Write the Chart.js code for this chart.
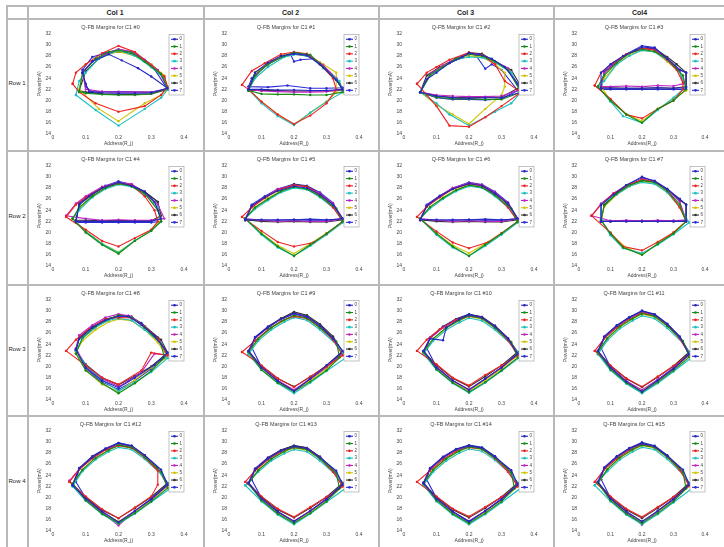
<!DOCTYPE html>
<html>
<head>
<meta charset="utf-8">
<script src="https://cdn.jsdelivr.net/npm/chart.js@4.4.1/dist/chart.umd.min.js"></script>
<style>
  body { margin:0; background:#fff; font-family:"Liberation Sans", Arial, sans-serif; }
  #page { position:relative; width:724px; height:547px; overflow:hidden; background:#fff; }
  .ln { position:absolute; background:#b8b8b8; }
  .hdr { position:absolute; font-size:7px; font-weight:bold; color:#222; text-align:center; line-height:13px; }
  .rlab { position:absolute; font-size:6px; color:#222; text-align:center; width:20px; }
  canvas { position:absolute; }
</style>
</head>
<body>
<div id="page"></div>
<script>
// Q-FB margin sweeps, one chart per table cell (C1 #0 .. #15), 8 series each
const colLabels = ['Col 1', 'Col 2', 'Col 3', 'Col4'];
const rowLabels = ['Row 1', 'Row 2', 'Row 3', 'Row 4'];
const seriesLabels = ['0', '1', '2', '3', '4', '5', '6', '7'];
const seriesColors = ['#2626c0', '#148a14', '#ee2222', '#1cc0c0', '#c024c0', '#d2c200', '#333333', '#2c2cd4'];
const yTicks = [14, 16, 18, 20, 22, 24, 26, 28, 30, 32];
const xTicks = [0, 0.1, 0.2, 0.3, 0.4];

// each chart: 8 series of [address, power] points, closed loops
const c0 = [
  [[.09,25],[.12,27],[.17,28.3],[.21,27.2],[.26,25.8],[.3,24.3],[.35,22.2],[.3,21.4],[.25,21.3],[.2,21.3],[.15,21.4],[.11,21.6],[.1,23],[.09,25]],
  [[.08,21.6],[.09,25],[.13,27.5],[.17,28.7],[.2,29],[.24,28.6],[.28,27],[.33,24.8],[.35,22.2],[.3,21.2],[.25,21],[.2,21],[.15,21.1],[.1,21.3],[.08,21.6]],
  [[.06,23],[.07,25],[.1,26.5],[.15,28.5],[.2,29.8],[.25,28.7],[.3,26.3],[.34,24.3],[.35,22.5],[.33,21],[.28,19],[.2,18],[.13,19.5],[.08,21.5],[.06,23]],
  [[.07,21],[.08,23.5],[.1,25],[.14,27.5],[.2,29],[.25,28],[.3,26],[.34,24],[.35,22],[.33,20.5],[.28,18.5],[.2,15.5],[.13,18.3],[.07,21]],
  [[.09,25],[.12,27],[.16,28.3],[.2,29.2],[.24,28.8],[.28,27.3],[.32,25.5],[.35,22.2],[.3,21.5],[.25,21.5],[.2,21.5],[.15,21.6],[.1,22],[.09,25]],
  [[.08,22],[.09,25],[.13,27.5],[.2,28.8],[.25,28],[.3,26.5],[.34,24.5],[.35,22],[.33,21],[.28,19.5],[.2,16.3],[.14,18.5],[.08,22]],
  [[.08,21.8],[.1,25.3],[.14,27.5],[.18,28.6],[.22,28.7],[.26,28],[.3,26],[.34,24],[.35,22],[.3,21.2],[.25,21.1],[.2,21.1],[.15,21.2],[.1,21.5],[.08,21.8]],
  [[.09,25.5],[.12,27.8],[.16,28.5],[.2,29.2],[.25,28.6],[.3,26.5],[.35,22],[.3,21.5],[.2,21.6],[.15,21.6],[.12,21.5],[.1,22.5],[.09,25.5]]
];
const c1 = [
  [[.06,22],[.08,25],[.12,26.8],[.16,28],[.2,28.4],[.24,28.1],[.28,26.5],[.33,23.7],[.35,22],[.3,21.8],[.25,21.8],[.2,21.9],[.15,21.9],[.1,22],[.06,22]],
  [[.06,21.8],[.08,24.5],[.12,26.5],[.17,28],[.2,28.6],[.25,28.2],[.29,26],[.34,23],[.35,21.5],[.3,21],[.25,21],[.2,21.1],[.15,21.1],[.1,21.2],[.06,21.8]],
  [[.04,22.8],[.07,25.3],[.11,26.7],[.16,28.3],[.2,28.7],[.24,28.4],[.28,26.5],[.32,24],[.33,22],[.3,19.5],[.25,17.3],[.2,15.8],[.15,17.5],[.1,19.8],[.06,22],[.04,22.8]],
  [[.06,22],[.08,24],[.12,26],[.17,27.8],[.21,28.3],[.25,27.8],[.29,25.8],[.34,23.5],[.35,21.5],[.3,19.8],[.25,17.8],[.2,15.6],[.15,17.2],[.1,19.5],[.06,22]],
  [[.06,22],[.09,25],[.13,27],[.17,28],[.21,28.5],[.25,28],[.29,26.3],[.33,24],[.35,22],[.3,21.6],[.25,21.5],[.2,21.5],[.15,21.6],[.1,21.7],[.06,22]],
  [[.06,22],[.09,25.2],[.13,27],[.17,28.2],[.2,28.5],[.25,28],[.29,26.5],[.33,25],[.33,21.5],[.3,19.8],[.25,17.8],[.2,15.7],[.15,17.5],[.1,19.8],[.06,22]],
  [[.06,21.8],[.08,25],[.12,26.5],[.16,27.8],[.2,28.3],[.24,28],[.28,26.8],[.33,24],[.35,21.8],[.3,21.7],[.25,21.7],[.2,21.7],[.15,21.8],[.1,21.8],[.06,21.8]],
  [[.06,22.5],[.07,24],[.12,26.6],[.16,27.8],[.19,28.2],[.2,27],[.22,27.3],[.26,27.5],[.3,25.5],[.35,22.3],[.3,22.2],[.25,22.2],[.18,22.7],[.12,22.4],[.06,22.5]]
];
const c2 = [
  [[.05,21.5],[.07,23.8],[.1,25],[.14,26.7],[.18,27.8],[.2,28.5],[.23,28.3],[.27,27.5],[.31,26],[.35,23],[.36,21.5],[.3,20.5],[.25,20.5],[.2,20.4],[.15,20.5],[.1,20.8],[.05,21.5]],
  [[.05,21.5],[.08,24.6],[.12,26],[.16,27.5],[.2,28.3],[.24,28],[.28,27],[.32,25.5],[.36,21.5],[.3,20.2],[.25,20.2],[.2,20.3],[.15,20.3],[.1,20.6],[.05,21.5]],
  [[.04,23],[.07,25],[.1,26],[.14,27.3],[.2,28.6],[.24,28.2],[.28,26.5],[.31,23.5],[.36,21.5],[.3,19],[.25,17],[.2,15.3],[.14,15.5],[.1,19],[.07,21],[.04,23]],
  [[.05,21.5],[.08,24.5],[.12,26],[.16,27.3],[.2,27.8],[.24,27.7],[.28,26.8],[.33,25],[.36,21.5],[.33,19.5],[.28,18],[.2,15.5],[.14,17.5],[.1,19.5],[.05,21.5]],
  [[.05,21.5],[.08,24.8],[.12,26.3],[.16,27.6],[.2,28.4],[.24,28.1],[.28,27],[.32,25.8],[.36,22],[.3,20.8],[.25,20.7],[.2,20.7],[.15,20.8],[.1,21],[.05,21.5]],
  [[.05,21.5],[.08,24.5],[.12,26.2],[.17,27.5],[.2,28],[.24,27.8],[.28,26.5],[.31,25],[.31,22.5],[.3,21],[.25,18.5],[.2,15.8],[.15,17.5],[.1,19.2],[.05,21.5]],
  [[.05,21.5],[.07,24.5],[.11,26],[.16,27.5],[.2,28.6],[.24,28.4],[.28,27],[.33,25.5],[.36,22.5],[.3,20.6],[.25,20.6],[.2,20.5],[.15,20.6],[.1,20.8],[.05,21.5]],
  [[.05,21.5],[.08,24.5],[.12,26.2],[.16,27.5],[.2,28.3],[.22,28.2],[.25,25.7],[.27,26.5],[.3,25.5],[.35,21.8],[.3,20.3],[.25,20.1],[.2,20.2],[.15,20.2],[.1,20.5],[.05,21.5]]
];
const c3 = [
  [[.07,22.2],[.07,25],[.1,26.5],[.14,28],[.18,29],[.2,29.6],[.24,29.4],[.28,27.5],[.32,25.5],[.34,25],[.34,22.3],[.3,22.2],[.25,22.3],[.2,22.2],[.15,22.2],[.1,22.2],[.07,22.2]],
  [[.06,22.5],[.08,24.5],[.12,26.8],[.16,28.5],[.2,29.2],[.24,28.8],[.28,27.5],[.33,24.5],[.34,22],[.3,20],[.25,18.5],[.2,16],[.15,17.5],[.1,20],[.06,22.5]],
  [[.05,22.7],[.07,25],[.11,26.8],[.15,28.3],[.2,29.4],[.24,29],[.28,27.3],[.31,25.5],[.33,23.2],[.33,22],[.3,20],[.25,18.5],[.2,16.8],[.15,17.5],[.1,20.3],[.05,22.7]],
  [[.06,22.5],[.08,23.5],[.12,26.5],[.16,28],[.2,29],[.24,28.7],[.28,27.2],[.32,25],[.34,22.5],[.3,20.5],[.25,18.3],[.2,16],[.14,17.2],[.1,19.8],[.06,22.5]],
  [[.07,22.5],[.08,25],[.12,27],[.16,28.5],[.2,29.3],[.24,29.2],[.28,27.6],[.32,25.3],[.33,23],[.3,22.6],[.25,22.7],[.2,22.5],[.15,22.6],[.1,22.5],[.07,22.5]],
  [[.07,22.5],[.08,24],[.12,26.5],[.16,28.2],[.2,29],[.24,28.8],[.28,27],[.33,24.5],[.34,21.8],[.3,20.3],[.25,18.5],[.2,16.3],[.15,17.6],[.1,20],[.07,22.5]],
  [[.07,22.3],[.08,25],[.12,26.8],[.16,28.5],[.2,29.3],[.24,29.3],[.28,27.8],[.31,26.5],[.34,25],[.34,22.5],[.3,22.2],[.25,22.3],[.2,22.2],[.15,22.2],[.1,22.3],[.07,22.3]],
  [[.07,22],[.08,25.2],[.11,26.5],[.15,28.3],[.2,29.8],[.24,29.5],[.28,27.5],[.32,25.5],[.34,25],[.34,22],[.3,22],[.25,22],[.2,22],[.15,22],[.1,22],[.07,22]]
];
const c4 = [
  [[.07,22],[.08,25],[.11,26.5],[.15,28],[.2,29],[.24,28.4],[.28,27.3],[.31,25.5],[.33,22.5],[.3,22],[.25,22],[.2,22],[.15,22],[.1,22],[.07,22]],
  [[.06,22.5],[.08,24.5],[.12,26.5],[.16,28],[.2,28.8],[.24,28.3],[.28,27],[.32,24],[.33,22],[.3,20.3],[.25,18.5],[.2,16.2],[.15,17.8],[.1,20],[.06,22.5]],
  [[.04,22.8],[.07,25],[.1,26.3],[.15,28],[.2,28.8],[.24,28.5],[.28,26.5],[.31,24],[.32,22],[.3,20.5],[.25,19],[.2,17.5],[.15,18.5],[.1,20.5],[.04,22.8]],
  [[.06,22.5],[.08,24],[.12,26.3],[.16,27.8],[.2,28.6],[.24,28.2],[.28,26.8],[.32,24.5],[.33,22],[.3,20.3],[.25,18.6],[.2,16.4],[.15,18],[.1,20.2],[.06,22.5]],
  [[.04,23],[.07,25.2],[.1,26.5],[.15,28.2],[.2,29],[.24,28.7],[.28,27],[.32,25],[.34,22.5],[.3,22.2],[.25,22.2],[.2,22.3],[.15,22.2],[.1,22.5],[.04,23]],
  [[.06,22.5],[.08,24.3],[.12,26.5],[.16,28],[.2,28.7],[.24,28.4],[.28,27],[.32,24.5],[.33,22.3],[.3,20.5],[.25,18.5],[.2,16.5],[.15,18],[.1,20.2],[.06,22.5]],
  [[.07,22.2],[.08,25],[.12,26.8],[.16,28.2],[.2,28.9],[.24,28.5],[.28,27.3],[.32,25.5],[.33,23],[.3,22.1],[.25,22.1],[.2,22.2],[.15,22.1],[.1,22.2],[.07,22.2]],
  [[.07,21.8],[.08,25.3],[.12,27],[.16,28.4],[.2,29.2],[.24,28.6],[.28,27.3],[.32,25.5],[.33,22],[.3,21.8],[.25,21.8],[.2,21.8],[.15,21.8],[.1,21.8],[.07,21.8]]
];
const c5 = [
  [[.05,22.3],[.07,24.8],[.11,26.3],[.15,27.5],[.2,28.3],[.24,28],[.28,26.8],[.32,25],[.35,22.5],[.3,22.2],[.25,22.2],[.2,22.3],[.15,22.2],[.1,22.3],[.05,22.3]],
  [[.05,22.5],[.08,24.5],[.12,26],[.16,27.4],[.2,28.2],[.24,27.8],[.28,26.5],[.33,24.3],[.35,22],[.3,19.8],[.25,17.8],[.2,15.8],[.15,17.5],[.1,19.8],[.05,22.5]],
  [[.04,22.8],[.07,24.5],[.11,26.2],[.15,27.6],[.2,28.5],[.24,28.2],[.28,26.7],[.32,24.5],[.35,22],[.3,19.8],[.26,18.2],[.2,17.5],[.15,18.3],[.1,20.3],[.04,22.8]],
  [[.05,22.5],[.08,24.2],[.12,25.8],[.16,27.2],[.2,28],[.24,27.7],[.28,26.3],[.33,24],[.35,21.8],[.3,19.6],[.25,17.6],[.2,15.8],[.15,17.3],[.1,19.6],[.05,22.5]],
  [[.05,22.5],[.07,24.8],[.11,26.3],[.15,27.8],[.2,28.5],[.24,28.2],[.28,27],[.32,25.2],[.35,22.5],[.3,22],[.25,22],[.2,22.1],[.15,22],[.1,22.2],[.05,22.5]],
  [[.05,22.5],[.08,24.5],[.12,26.2],[.16,27.5],[.2,28.2],[.24,27.9],[.28,26.5],[.33,24.2],[.35,22],[.3,19.9],[.25,18],[.2,16.2],[.15,17.7],[.1,19.9],[.05,22.5]],
  [[.05,22.3],[.07,24.7],[.11,26.3],[.15,27.7],[.2,28.6],[.24,28.3],[.28,27],[.32,25],[.35,22.3],[.3,21.9],[.25,21.9],[.2,22],[.15,21.9],[.1,22],[.05,22.3]],
  [[.05,22.2],[.07,25],[.11,26.5],[.15,27.8],[.2,28.7],[.24,28.4],[.28,27.2],[.32,25.3],[.35,22.4],[.3,22.3],[.25,22.4],[.2,22.3],[.15,22.3],[.1,22.2],[.05,22.2]]
];
const c6 = [
  [[.05,22.3],[.07,24.8],[.11,26.5],[.15,27.8],[.2,28.8],[.24,28.4],[.28,27],[.32,25.2],[.35,22.5],[.3,22.2],[.25,22.2],[.2,22.3],[.15,22.2],[.1,22.3],[.05,22.3]],
  [[.05,22.5],[.08,24.6],[.12,26.2],[.16,27.6],[.2,28.5],[.24,28.1],[.28,26.7],[.33,24.3],[.35,22],[.3,19.8],[.25,17.8],[.2,15.8],[.15,17.5],[.1,19.8],[.05,22.5]],
  [[.04,22.8],[.07,24.6],[.11,26.3],[.15,27.8],[.2,28.7],[.24,28.4],[.28,26.8],[.32,24.5],[.35,22],[.3,19.9],[.26,18.3],[.2,17.2],[.15,18.2],[.1,20.2],[.04,22.8]],
  [[.05,22.5],[.08,24.3],[.12,26],[.16,27.4],[.2,28.3],[.24,28],[.28,26.5],[.33,24],[.35,21.8],[.3,19.6],[.25,17.6],[.2,15.8],[.15,17.3],[.1,19.6],[.05,22.5]],
  [[.05,22.5],[.07,24.8],[.11,26.5],[.15,28],[.2,28.9],[.24,28.5],[.28,27.2],[.32,25.3],[.35,22.5],[.3,22],[.25,22],[.2,22.1],[.15,22],[.1,22.2],[.05,22.5]],
  [[.05,22.5],[.08,24.5],[.12,26.3],[.16,27.7],[.2,28.5],[.24,28.2],[.28,26.7],[.33,24.2],[.35,22],[.3,19.9],[.25,18],[.2,16.3],[.15,17.7],[.1,19.9],[.05,22.5]],
  [[.05,22.3],[.07,24.7],[.11,26.4],[.15,27.9],[.2,28.8],[.24,28.5],[.28,27.1],[.32,25],[.35,22.3],[.3,21.9],[.25,21.9],[.2,22],[.15,21.9],[.1,22],[.05,22.3]],
  [[.05,22.2],[.07,25],[.11,26.6],[.15,28],[.2,29],[.24,28.6],[.28,27.3],[.32,25.4],[.35,22.4],[.3,22.3],[.25,22.4],[.2,22.3],[.15,22.3],[.1,22.2],[.05,22.2]]
];
const c7 = [
  [[.07,22],[.07,25],[.11,26.8],[.15,28.5],[.2,30],[.24,29.2],[.28,27.8],[.32,26],[.34,25],[.34,22],[.3,22],[.25,22],[.2,22],[.15,22],[.1,22],[.07,22]],
  [[.07,22.3],[.08,24.8],[.12,27],[.16,28.5],[.2,29.3],[.24,29],[.28,27.5],[.32,25],[.34,22],[.3,19.8],[.25,18],[.2,16],[.14,17.3],[.1,19.8],[.07,22.3]],
  [[.04,23],[.07,25],[.11,27],[.16,28.6],[.2,29.5],[.24,29.2],[.28,27.5],[.32,24.5],[.34,22],[.3,20],[.25,18.3],[.2,16.8],[.14,17.5],[.1,20],[.04,23]],
  [[.07,22.2],[.07,25],[.12,26.8],[.16,28.3],[.2,29],[.24,28.7],[.28,27.2],[.32,24.5],[.35,21.8],[.3,19.7],[.25,17.8],[.2,16.3],[.14,17.2],[.1,19.5],[.07,22.2]],
  [[.04,23],[.07,25.2],[.11,27],[.16,28.6],[.2,29.5],[.24,29.2],[.28,27.7],[.32,25.5],[.34,22.3],[.3,22.1],[.25,22.2],[.2,22.1],[.15,22.2],[.1,22.1],[.04,23]],
  [[.07,22.2],[.08,24.6],[.12,26.8],[.16,28.3],[.2,29.1],[.24,28.8],[.28,27.2],[.32,24.6],[.34,22],[.3,20],[.25,18],[.2,16],[.15,17.3],[.1,19.7],[.07,22.2]],
  [[.07,22],[.08,25],[.12,27],[.16,28.5],[.2,29.4],[.24,29.1],[.28,27.7],[.32,25.8],[.34,25],[.34,22],[.3,22],[.25,22.1],[.2,22],[.15,22],[.1,22],[.07,22]],
  [[.07,22],[.07,25],[.11,27],[.15,28.5],[.2,29.8],[.24,29.3],[.28,27.8],[.32,26],[.34,25],[.34,22.1],[.3,22.1],[.25,22],[.2,22.1],[.15,22.1],[.1,22],[.07,22]]
];
const c8 = [
  [[.07,23],[.08,25],[.12,27],[.16,28.3],[.2,29],[.23,29],[.27,27.5],[.31,25.5],[.35,22.5],[.31,20.3],[.25,18],[.2,16.2],[.15,17.5],[.1,19.8],[.07,23]],
  [[.07,22.3],[.09,25.2],[.13,27.2],[.17,28.5],[.2,29.2],[.24,28.8],[.28,27],[.33,24],[.34,21.6],[.3,19.2],[.25,17],[.2,15.2],[.15,17],[.1,19.3],[.07,22.3]],
  [[.04,22.8],[.07,24.8],[.11,26.7],[.16,28.5],[.2,28.8],[.24,28.7],[.28,27.2],[.32,25],[.35,22],[.3,22.5],[.27,19.3],[.2,16.8],[.15,18],[.1,20.2],[.04,22.8]],
  [[.07,22.8],[.09,25],[.13,27],[.17,28.3],[.2,28.6],[.24,28.3],[.28,26.6],[.33,24.2],[.35,21.5],[.3,19],[.25,17.2],[.2,15.6],[.15,17.6],[.1,20.2],[.07,22.8]],
  [[.07,23.3],[.08,25.6],[.12,27.4],[.16,28.8],[.2,29.4],[.24,29],[.28,27],[.33,24.3],[.35,22],[.31,22.3],[.27,19],[.23,17.4],[.2,16.4],[.15,17.8],[.1,20],[.07,23.3]],
  [[.07,22.6],[.09,24.6],[.13,26.6],[.17,28],[.2,28.5],[.24,28.2],[.28,26.6],[.32,24.3],[.35,21.7],[.3,19.8],[.25,17.6],[.2,15.5],[.15,16.8],[.1,19.3],[.07,22.6]],
  [[.07,22.8],[.08,25],[.12,27],[.16,28.5],[.2,29],[.24,28.9],[.28,27.2],[.33,24.8],[.35,22.5],[.3,20],[.25,18.3],[.2,16.7],[.15,18],[.1,20.4],[.07,22.8]],
  [[.07,23],[.08,25.3],[.12,27.2],[.16,28.4],[.2,29.1],[.23,29.1],[.27,27.8],[.32,25.2],[.35,22.2],[.3,19.6],[.25,17.5],[.2,15.9],[.15,17.2],[.1,19.6],[.07,23]]
];
const c9 = [
  [[.06,22.8],[.08,25.2],[.12,27],[.16,28.5],[.2,29.5],[.24,28.9],[.28,27.3],[.32,25],[.35,22.8],[.3,20.2],[.25,17.8],[.2,15.6],[.15,17.4],[.1,19.8],[.06,22.8]],
  [[.06,22.6],[.09,25],[.13,27],[.17,28.4],[.2,29.2],[.24,28.7],[.28,27],[.33,24.5],[.34,21.6],[.3,19.3],[.25,17.3],[.2,15.5],[.15,17.1],[.1,19.4],[.06,22.6]],
  [[.04,22.6],[.08,24.6],[.12,26.6],[.16,28.1],[.2,29],[.24,28.6],[.28,27],[.32,24.8],[.35,22],[.3,20],[.25,18.2],[.2,16.3],[.15,17.9],[.1,20.2],[.04,22.6]],
  [[.06,22.2],[.09,24.6],[.13,26.6],[.17,28],[.2,28.8],[.24,28.3],[.28,26.6],[.33,24],[.36,21.6],[.3,19.2],[.25,17.1],[.2,15.2],[.15,17],[.1,19.4],[.06,22.2]],
  [[.06,22.8],[.08,25],[.12,27],[.16,28.5],[.2,29.4],[.24,28.9],[.28,27.3],[.32,25],[.35,22.3],[.3,19.9],[.25,17.8],[.2,15.8],[.15,17.5],[.1,19.9],[.06,22.8]],
  [[.06,22.5],[.09,24.9],[.13,26.9],[.17,28.3],[.2,29.1],[.24,28.6],[.28,26.9],[.33,24.3],[.35,22],[.3,19.6],[.25,17.5],[.2,15.7],[.15,17.3],[.1,19.7],[.06,22.5]],
  [[.06,22.7],[.08,25.1],[.12,27.1],[.16,28.6],[.2,29.8],[.24,29.2],[.28,27.6],[.32,25.4],[.35,22.6],[.3,20.2],[.25,18.1],[.2,16.4],[.15,17.8],[.1,20.1],[.06,22.7]],
  [[.07,23.4],[.08,25.3],[.12,27.2],[.16,28.6],[.2,29.6],[.24,29],[.28,27.4],[.32,25.2],[.35,22.5],[.3,19.9],[.25,17.7],[.2,15.7],[.15,17.4],[.1,19.9],[.07,23.4]]
];
const c10 = [
  [[.06,22.8],[.08,25],[.12,24.7],[.13,27],[.17,28.5],[.2,29.3],[.24,28.8],[.28,27.2],[.32,25],[.35,22.3],[.3,19.8],[.25,17.8],[.2,15.8],[.15,17.5],[.1,19.8],[.06,22.8]],
  [[.06,22.6],[.09,25],[.13,27],[.17,28.3],[.2,29.1],[.24,28.6],[.28,27],[.33,24.4],[.35,21.6],[.3,19.3],[.25,17.2],[.2,15.4],[.15,17.1],[.1,19.5],[.06,22.6]],
  [[.04,22.8],[.07,24.8],[.11,26.7],[.16,28.3],[.2,29],[.24,28.7],[.28,27],[.32,24.7],[.35,22],[.3,20.2],[.25,18.5],[.2,16.6],[.15,18],[.1,20.4],[.04,22.8]],
  [[.06,22.3],[.09,24.6],[.13,26.6],[.17,27.9],[.2,28.7],[.24,28.2],[.28,26.6],[.33,24],[.36,21.8],[.3,19.2],[.25,17.1],[.2,15.3],[.15,17],[.1,19.4],[.06,22.3]],
  [[.06,22.8],[.08,25],[.12,27],[.16,28.4],[.2,29.2],[.24,28.8],[.28,27.2],[.32,25],[.35,22.2],[.3,19.8],[.25,17.8],[.2,15.9],[.15,17.5],[.1,19.9],[.06,22.8]],
  [[.06,22.5],[.09,24.9],[.13,26.9],[.17,28.2],[.2,29],[.24,28.5],[.28,26.9],[.33,24.3],[.35,22],[.3,19.6],[.25,17.5],[.2,15.7],[.15,17.3],[.1,19.7],[.06,22.5]],
  [[.06,22.7],[.08,25.1],[.12,27.1],[.16,28.5],[.2,29.3],[.24,28.9],[.28,27.3],[.32,25.1],[.35,22.6],[.3,20.2],[.25,18.2],[.2,16.4],[.15,17.9],[.1,20.2],[.06,22.7]],
  [[.07,23.3],[.08,25.2],[.12,27.2],[.16,28.5],[.2,29.4],[.24,28.9],[.28,27.3],[.32,25.1],[.35,22.4],[.3,19.9],[.25,17.7],[.2,15.7],[.15,17.4],[.1,19.9],[.07,23.3]]
];
const c11 = [
  [[.06,22.8],[.08,25.3],[.12,27.3],[.16,28.8],[.2,30],[.24,29.3],[.28,27.6],[.32,25.3],[.35,22.2],[.3,19.6],[.25,17.5],[.2,15.5],[.15,17.3],[.1,19.8],[.06,22.8]],
  [[.06,22.6],[.09,25.1],[.13,27.2],[.17,28.6],[.2,29.5],[.24,29],[.28,27.3],[.33,24.6],[.35,21.7],[.3,19.3],[.25,17.2],[.2,15.4],[.15,17.1],[.1,19.5],[.06,22.6]],
  [[.05,22.8],[.08,25],[.12,27],[.16,28.5],[.2,29.6],[.24,29.1],[.28,27.4],[.32,25],[.35,22.1],[.3,20.1],[.25,18.2],[.2,16.4],[.15,17.9],[.1,20.2],[.05,22.8]],
  [[.06,22.2],[.09,24.7],[.13,26.8],[.17,28.2],[.2,29.1],[.24,28.6],[.28,26.9],[.33,24.2],[.36,21.7],[.3,19.1],[.25,17],[.2,15.2],[.15,16.9],[.1,19.3],[.06,22.2]],
  [[.06,22.8],[.08,25.2],[.12,27.2],[.16,28.7],[.2,29.7],[.24,29.2],[.28,27.5],[.32,25.2],[.35,22.2],[.3,19.7],[.25,17.7],[.2,15.8],[.15,17.4],[.1,19.8],[.06,22.8]],
  [[.06,22.5],[.09,25],[.13,27.1],[.17,28.5],[.2,29.4],[.24,28.9],[.28,27.2],[.33,24.5],[.35,22],[.3,19.5],[.25,17.4],[.2,15.7],[.15,17.2],[.1,19.6],[.06,22.5]],
  [[.06,22.7],[.08,25.2],[.12,27.3],[.16,28.8],[.2,29.8],[.24,29.3],[.28,27.6],[.32,25.3],[.35,22.6],[.3,20.1],[.25,18.1],[.2,16.3],[.15,17.8],[.1,20.1],[.06,22.7]],
  [[.07,23.3],[.08,25.4],[.12,27.4],[.16,28.9],[.2,30],[.24,29.4],[.28,27.7],[.32,25.4],[.35,22.4],[.3,19.8],[.25,17.6],[.2,15.6],[.15,17.4],[.1,19.9],[.07,23.3]]
];
const c12 = [
  [[.06,22.2],[.08,25.2],[.12,27.2],[.16,28.7],[.2,29.8],[.24,29.3],[.28,27.6],[.33,25],[.35,22.3],[.3,19.7],[.25,17.6],[.2,15.6],[.15,17.5],[.1,19.8],[.06,22.2]],
  [[.06,22.5],[.09,25],[.13,27.1],[.17,28.5],[.2,29.4],[.24,29],[.28,27.3],[.33,24.6],[.35,21.7],[.3,19.3],[.25,17.2],[.2,15.4],[.15,17.1],[.1,19.5],[.06,22.5]],
  [[.05,22.8],[.08,25],[.12,27],[.16,28.5],[.2,29.3],[.24,28.9],[.28,27.2],[.32,24.8],[.32,22.3],[.3,20.2],[.25,18.2],[.2,16.3],[.15,17.9],[.1,20.2],[.05,22.8]],
  [[.06,22],[.09,24.7],[.13,26.8],[.17,28.2],[.2,29],[.24,28.6],[.28,26.9],[.33,24.2],[.36,21.7],[.3,19.2],[.25,17.1],[.2,15.3],[.15,17],[.1,19.4],[.06,22]],
  [[.05,23],[.08,25.1],[.12,27.2],[.16,28.6],[.2,29.5],[.24,29.1],[.28,27.4],[.32,25.1],[.35,22.2],[.3,19.7],[.25,17.6],[.2,15],[.15,17.3],[.1,19.8],[.05,23]],
  [[.06,22.5],[.09,25],[.13,27.1],[.17,28.5],[.2,29.3],[.24,28.9],[.28,27.2],[.33,24.5],[.35,22],[.3,19.5],[.25,17.4],[.2,15.7],[.15,17.2],[.1,19.6],[.06,22.5]],
  [[.06,22.4],[.08,25.2],[.12,27.3],[.16,28.7],[.2,29.6],[.24,29.2],[.28,27.5],[.32,25.2],[.35,22.6],[.3,20.1],[.25,18.1],[.2,16.3],[.15,17.7],[.1,20],[.06,22.4]],
  [[.07,22.8],[.08,25.3],[.12,27.4],[.16,28.8],[.2,29.8],[.24,29.3],[.28,27.6],[.32,25.3],[.35,22.4],[.3,19.8],[.25,17.6],[.2,15.5],[.15,17.4],[.1,19.9],[.07,22.8]]
];
const c13 = [
  [[.06,22.6],[.08,25],[.12,27],[.16,28.4],[.2,29.2],[.24,28.8],[.28,27.2],[.33,24.8],[.35,22.3],[.3,19.7],[.25,17.6],[.2,15.7],[.15,17.5],[.1,19.8],[.06,22.6]],
  [[.06,22.5],[.09,24.9],[.13,26.9],[.17,28.3],[.2,29],[.24,28.6],[.28,27],[.33,24.4],[.34,21.6],[.3,19.3],[.25,17.2],[.2,15.4],[.15,17.1],[.1,19.5],[.06,22.5]],
  [[.05,22.8],[.08,24.8],[.12,26.8],[.16,28.2],[.2,29],[.24,28.7],[.28,27],[.32,24.6],[.35,22],[.3,20.1],[.25,18.3],[.2,16.5],[.15,18],[.1,20.2],[.05,22.8]],
  [[.05,22.2],[.09,24.6],[.13,26.6],[.17,27.9],[.2,28.6],[.24,28.2],[.28,26.6],[.33,24],[.36,21.7],[.3,19.2],[.25,17.1],[.2,15.2],[.15,16.9],[.1,19.3],[.05,22.2]],
  [[.06,22.7],[.08,25],[.12,27],[.16,28.4],[.2,29.1],[.24,28.8],[.28,27.2],[.32,24.9],[.35,22.2],[.3,19.7],[.25,17.6],[.2,15.8],[.15,17.4],[.1,19.8],[.06,22.7]],
  [[.06,22.5],[.09,24.9],[.13,26.9],[.17,28.2],[.2,28.9],[.24,28.5],[.28,26.9],[.33,24.3],[.35,22],[.3,19.5],[.25,17.4],[.2,15.6],[.15,17.2],[.1,19.6],[.06,22.5]],
  [[.06,22.6],[.08,25.1],[.12,27.1],[.16,28.5],[.2,29.3],[.24,28.9],[.28,27.3],[.32,25],[.35,22.6],[.3,20.1],[.25,18.1],[.2,16.4],[.15,17.8],[.1,20.1],[.06,22.6]],
  [[.07,23.2],[.08,25.2],[.12,27.2],[.16,28.5],[.2,29.3],[.24,28.9],[.28,27.3],[.32,25.1],[.35,22.4],[.3,19.8],[.25,17.6],[.2,15.6],[.15,17.4],[.1,19.9],[.07,23.2]]
];
const c14 = [
  [[.06,22.6],[.08,25.2],[.12,27.2],[.16,28.6],[.2,29.3],[.24,28.9],[.28,27.3],[.33,24.9],[.35,22.3],[.3,19.7],[.25,17.6],[.2,15.7],[.15,17.5],[.1,19.8],[.06,22.6]],
  [[.06,22.5],[.09,25],[.13,27],[.17,28.4],[.2,29.1],[.24,28.7],[.28,27.1],[.33,24.5],[.34,21.6],[.3,19.3],[.25,17.2],[.2,15.4],[.15,17.1],[.1,19.5],[.06,22.5]],
  [[.04,22.8],[.08,24.8],[.12,26.8],[.16,28.3],[.2,29],[.24,28.7],[.28,27],[.32,24.6],[.35,22],[.3,20.1],[.25,18.3],[.2,16.6],[.15,18],[.1,20.2],[.04,22.8]],
  [[.06,22.2],[.09,24.6],[.13,26.6],[.17,28],[.2,28.7],[.24,28.3],[.28,26.7],[.33,24.1],[.36,21.7],[.3,19.1],[.25,17],[.2,15.2],[.15,16.9],[.1,19.3],[.06,22.2]],
  [[.06,22.7],[.08,25.1],[.12,27.1],[.16,28.5],[.2,29.2],[.24,28.8],[.28,27.2],[.32,24.9],[.35,22.2],[.3,19.7],[.25,17.6],[.2,15.8],[.15,17.4],[.1,19.8],[.06,22.7]],
  [[.06,22.5],[.09,24.9],[.13,26.9],[.17,28.3],[.2,29],[.24,28.6],[.28,27],[.33,24.4],[.35,22],[.3,19.5],[.25,17.4],[.2,15.2],[.15,17.2],[.1,19.6],[.06,22.5]],
  [[.06,22.6],[.08,25.1],[.12,27.1],[.16,28.6],[.2,29.3],[.24,28.9],[.28,27.3],[.32,25],[.35,22.6],[.3,20.1],[.25,18.1],[.2,16.4],[.15,17.8],[.1,20.1],[.06,22.6]],
  [[.07,23.2],[.08,25.3],[.12,27.3],[.16,28.7],[.2,29.4],[.24,29],[.28,27.4],[.32,25.1],[.35,22.4],[.3,19.8],[.25,17.6],[.2,15.6],[.15,17.4],[.1,19.9],[.07,23.2]]
];
const c15 = [
  [[.06,22.8],[.08,25.3],[.12,27.3],[.16,28.8],[.2,29.7],[.24,29.2],[.28,27.5],[.33,25],[.35,22.3],[.3,19.7],[.25,17.6],[.2,15.7],[.15,17.5],[.1,19.8],[.06,22.8]],
  [[.06,22.6],[.09,25.1],[.13,27.2],[.17,28.6],[.2,29.4],[.24,29],[.28,27.3],[.33,24.6],[.34,21.6],[.3,19.3],[.25,17.2],[.2,15.4],[.15,17.1],[.1,19.5],[.06,22.6]],
  [[.05,22.8],[.08,25],[.12,27],[.16,28.5],[.2,29.5],[.24,29],[.28,27.3],[.32,24.9],[.35,22.1],[.3,20.1],[.25,18.3],[.2,16.5],[.15,18],[.1,20.2],[.05,22.8]],
  [[.05,22.2],[.09,24.7],[.13,26.8],[.17,28.2],[.2,29],[.24,28.6],[.28,26.9],[.33,24.2],[.36,21.7],[.3,19.1],[.25,17],[.2,15.2],[.15,16.9],[.1,19.3],[.05,22.2]],
  [[.06,22.8],[.08,25.2],[.12,27.2],[.16,28.7],[.2,29.6],[.24,29.1],[.28,27.4],[.32,25.1],[.35,22.2],[.3,19.7],[.25,17.6],[.2,15.1],[.15,17.4],[.1,19.8],[.06,22.8]],
  [[.06,22.5],[.09,25],[.13,27.1],[.17,28.5],[.2,29.3],[.24,28.9],[.28,27.2],[.33,24.5],[.35,22],[.3,19.5],[.25,17.4],[.2,15.7],[.15,17.2],[.1,19.6],[.06,22.5]],
  [[.06,22.7],[.08,25.2],[.12,27.3],[.16,28.8],[.2,29.7],[.24,29.2],[.28,27.5],[.32,25.2],[.35,22.6],[.3,20.1],[.25,18.1],[.2,16.3],[.15,17.8],[.1,20.1],[.06,22.7]],
  [[.07,23.3],[.08,25.4],[.12,27.4],[.16,28.9],[.2,29.9],[.24,29.3],[.28,27.6],[.32,25.3],[.35,22.4],[.3,19.8],[.25,17.6],[.2,15.6],[.15,17.4],[.1,19.9],[.07,23.3]]
];
const charts = [c0, c1, c2, c3, c4, c5, c6, c7, c8, c9, c10, c11, c12, c13, c14, c15];

// table geometry (page pixels)
const colEdges = [27, 203, 378, 553, 726];
const rowEdges = [18, 150, 284, 415, 549];

const page = document.getElementById('page');
function line(x, y, w, h) {
  const d = document.createElement('div');
  d.className = 'ln';
  d.style.cssText = `left:${x}px;top:${y}px;width:${w}px;height:${h}px`;
  page.appendChild(d);
}
// outer border + grid lines
line(6, 5, 720, 2);
rowEdges.slice(0, 4).forEach(y => line(6, y, 720, 2));
line(6, 5, 2, 542);
colEdges.slice(0, 4).forEach(x => line(x, 5, 2, 542));

colLabels.forEach((t, i) => {
  const d = document.createElement('div');
  d.className = 'hdr';
  d.textContent = t;
  d.style.cssText = `left:${colEdges[i]}px;top:6px;width:${colEdges[i+1]-colEdges[i]}px`;
  page.appendChild(d);
});
rowLabels.forEach((t, i) => {
  const d = document.createElement('div');
  d.className = 'rlab';
  d.textContent = t;
  d.style.cssText = `left:7px;top:${(rowEdges[i]+rowEdges[i+1])/2 - 4}px`;
  page.appendChild(d);
});

// legend drawn inside the plot, top-right, like the MATLAB one
const innerLegend = {
  id: 'innerLegend',
  afterDraw(chart) {
    const {ctx, chartArea} = chart;
    const w = 15, rowH = 7.3, n = chart.data.datasets.length;
    const x0 = chartArea.right - w, y0 = chartArea.top + 1;
    ctx.save();
    ctx.fillStyle = '#fff';
    ctx.strokeStyle = '#999';
    ctx.lineWidth = 0.6;
    ctx.fillRect(x0, y0, w, rowH * n + 2);
    ctx.strokeRect(x0, y0, w, rowH * n + 2);
    ctx.font = '4.5px "Liberation Sans", Arial';
    ctx.textBaseline = 'middle';
    chart.data.datasets.forEach((ds, i) => {
      const y = y0 + 1 + rowH * (i + 0.5);
      ctx.strokeStyle = ds.borderColor;
      ctx.lineWidth = 1.1;
      ctx.beginPath(); ctx.moveTo(x0 + 2, y); ctx.lineTo(x0 + 9, y); ctx.stroke();
      ctx.fillStyle = ds.borderColor;
      ctx.beginPath(); ctx.arc(x0 + 5.5, y, 1.3, 0, Math.PI * 2); ctx.fill();
      ctx.fillStyle = '#444';
      ctx.fillText(ds.label, x0 + 10.5, y);
    });
    ctx.restore();
  }
};

charts.forEach((series, idx) => {
  const r = Math.floor(idx / 4), c = idx % 4;
  const left = colEdges[c] + 2, top = rowEdges[r] + 2;
  const w = Math.min(colEdges[c+1], 724) - left;
  const cv = document.createElement('canvas');
  cv.width = w; cv.height = 130;
  cv.style.cssText = `left:${left}px;top:${top}px;width:${w}px;height:130px`;
  page.appendChild(cv);

  new Chart(cv, {
    type: 'scatter',
    data: {
      datasets: series.map((pts, i) => ({
        label: seriesLabels[i],
        data: pts.map(p => ({x: p[0], y: p[1]})),
        showLine: true,
        borderColor: seriesColors[i],
        backgroundColor: seriesColors[i],
        borderWidth: 1.1,
        pointRadius: 1.2,
        pointBorderWidth: 0,
        tension: 0
      }))
    },
    options: {
      responsive: false,
      animation: false,
      devicePixelRatio: 1,
      layout: { padding: { left: 8, right: 19, top: 1, bottom: 3 } },
      plugins: {
        legend: { display: false },
        tooltip: { enabled: false },
        title: {
          display: true,
          text: 'Q-FB Margins for C1 #' + idx,
          color: '#444',
          font: { size: 5.5, weight: 'normal', family: '"Liberation Sans", Arial' },
          padding: { top: 3, bottom: 3 }
        }
      },
      scales: {
        x: {
          type: 'linear', min: 0, max: 0.4,
          afterBuildTicks: s => { s.ticks = xTicks.map(v => ({value: v})); },
          afterFit: s => { s.height = 13; },
          ticks: { color: '#444', font: { size: 5 }, padding: 1, maxRotation: 0 },
          grid: { display: false, drawTicks: false },
          border: { display: false },
          title: { display: true, text: 'Address(R_j)', color: '#444', font: { size: 5 }, padding: 0 }
        },
        y: {
          min: 14, max: 32,
          afterBuildTicks: s => { s.ticks = yTicks.map(v => ({value: v})); },
          afterFit: s => { s.width = 16; },
          ticks: { color: '#444', font: { size: 5 }, padding: 2 },
          grid: { display: false, drawTicks: false },
          border: { display: false },
          title: { display: true, text: 'Power(mA)', color: '#444', font: { size: 5 }, padding: 0 }
        }
      }
    },
    plugins: [innerLegend]
  });
});
</script>
</body>
</html>
